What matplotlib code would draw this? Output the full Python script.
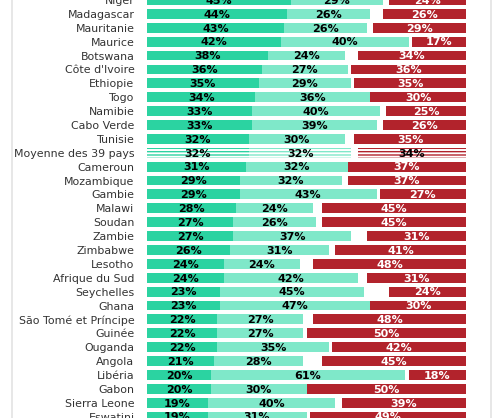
import numpy as np
import matplotlib.pyplot as plt
from matplotlib.lines import Line2D

plt.rcParams['font.family'] = ['DejaVu Sans']
plt.rcParams['hatch.linewidth'] = 1.0

countries = ["Niger", "Madagascar", "Mauritanie", "Maurice", "Botswana", "Côte d'Ivoire",
             "Ethiopie", "Togo", "Namibie", "Cabo Verde", "Tunisie", "Moyenne des 39 pays",
             "Cameroun", "Mozambique", "Gambie", "Malawi", "Soudan", "Zambie", "Zimbabwe",
             "Lesotho", "Afrique du Sud", "Seychelles", "Ghana", "São Tomé et Príncipe",
             "Guinée", "Ouganda", "Angola", "Libéria", "Gabon", "Sierra Leone", "Eswatini"]
dark = [45, 44, 43, 42, 38, 36, 35, 34, 33, 33, 32, 32, 31, 29, 29, 28, 27, 27, 26, 24,
        24, 23, 23, 22, 22, 22, 21, 20, 20, 19, 19]
light = [29, 26, 26, 40, 24, 27, 29, 36, 40, 39, 30, 32, 32, 32, 43, 24, 26, 37, 31, 24,
         42, 45, 47, 27, 27, 35, 28, 61, 30, 40, 31]
red = [24, 26, 29, 17, 34, 36, 35, 30, 25, 26, 35, 34, 37, 37, 27, 45, 45, 31, 41, 48,
       31, 24, 30, 48, 50, 42, 45, 18, 50, 39, 49]
avg_label = "Moyenne des 39 pays"

c_dark = '#2bd3a1'
c_light = '#7fe8c9'
c_red = '#b2232c'

W, H = 497, 418
fig = plt.figure(figsize=(W / 100, H / 100), dpi=100)
ax = fig.add_axes([147 / W, 0, 319 / W, 1])

y = np.arange(len(countries))
dark = np.array(dark)
light = np.array(light)
red = np.array(red)
h = 0.71

for i, name in enumerate(countries):
    avg = name == avg_label
    segs = [(0, dark[i], c_dark, 'k'), (dark[i], light[i], c_light, 'k'),
            (100 - red[i], red[i], c_red, 'white')]
    for left, width, col, tcol in segs:
        if avg:
            # average row drawn with stripes
            ax.barh(i, width, left=left, height=h, color='white', edgecolor=col,
                    hatch='-----', linewidth=0)
            tcol = 'k'
        else:
            ax.barh(i, width, left=left, height=h, color=col, linewidth=0)
        ax.text(left + width / 2, i + 0.06, f"{width}%", ha='center', va='center',
                fontsize=8, fontweight='bold', color=tcol)

ax.set_xlim(0, 100)
ax.set_ylim(30.1, 0.285)
ax.set_yticks(y)
ax.set_yticklabels(countries, fontsize=7.9, color='#333333')
ax.tick_params(axis='y', length=0, pad=9)
ax.set_xticks([])
for s in ax.spines.values():
    s.set_visible(False)

for xp in (12, 491):
    fig.add_artist(Line2D([xp / W, xp / W], [0, 1], color='#e3e3e3', lw=1.2))

fig.savefig('out.png', dpi=100)
